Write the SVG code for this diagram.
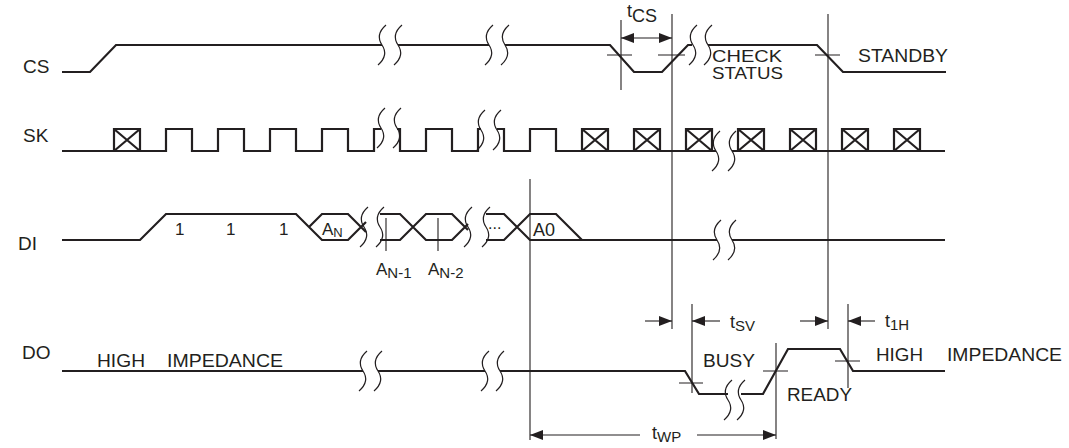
<svg xmlns="http://www.w3.org/2000/svg" width="1069" height="448" viewBox="0 0 1069 448">
<style>
.sig{fill:none;stroke:#231f20;stroke-width:2.2;stroke-linejoin:miter}
.thin{fill:none;stroke:#231f20;stroke-width:1.1}
.brk{fill:none;stroke:#231f20;stroke-width:1.2}
text{font-family:"Liberation Sans",Arial,sans-serif;fill:#231f20}
.lbl{font-size:19px}
.big{font-size:18px}
.mid{font-size:16.5px}
.one{font-size:17px}
.tm{font-size:18px}
.sub{font-size:15px}
</style>
<defs>
<path id="sq" class="brk" d="M4,-20 C-4,-13 -4,-6 0,0 C4,6 4,13 -4,20"/>
<path id="xb" class="sig" d="M0,22 V0 H26 V22 M0,0 L26,22 M26,0 L0,22"/>
<marker id="ah" markerWidth="13" markerHeight="10" refX="13" refY="5" orient="auto-start-reverse" markerUnits="userSpaceOnUse"><path d="M0,0 L13,5 L0,10 Z" fill="#231f20"/></marker>
</defs>
<rect width="1069" height="448" fill="#fff"/>

<g id="CS">
<text class="lbl" x="23" y="73">CS</text>
<path class="sig" d="M62,72 H90 L116,45 H382 M398,45 H489 M505,45 H610 L634,72 H662 L688,45 H692 M708,45 H817 L843,72 H946"/>
<use href="#sq" x="382" y="45"/><use href="#sq" x="398" y="45"/>
<use href="#sq" x="489" y="45"/><use href="#sq" x="505" y="45"/>
<use href="#sq" x="693" y="45"/><use href="#sq" x="708" y="45"/>
<text class="mid" x="712" y="62" textLength="70" lengthAdjust="spacingAndGlyphs">CHECK</text>
<text class="mid" x="712" y="79" textLength="71" lengthAdjust="spacingAndGlyphs">STATUS</text>
<text class="big" x="858" y="62" textLength="90" lengthAdjust="spacingAndGlyphs">STANDBY</text>
</g>

<g id="SK">
<text class="lbl" x="23" y="142">SK</text>
<path class="sig" d="M62,151 H166 V129 H192 V151 H218 V129 H244 V151 H270 V129 H296 V151 H322 V129 H348 V151 H374 V129 H381 M397,129 H400 V151 H426 V129 H452 V151 H478 V129 H481 M497,129 H504 V151 H530 V129 H556 V151 H716 M732,151 H945"/>
<use href="#xb" x="114" y="129"/>
<use href="#xb" x="582" y="129"/><use href="#xb" x="634" y="129"/><use href="#xb" x="686" y="129"/>
<use href="#xb" x="738" y="129"/><use href="#xb" x="790" y="129"/><use href="#xb" x="842" y="129"/><use href="#xb" x="894" y="129"/>
<use href="#sq" x="381" y="128"/><use href="#sq" x="397" y="128"/>
<use href="#sq" x="481" y="130"/><use href="#sq" x="497" y="130"/>
<use href="#sq" x="716" y="151"/><use href="#sq" x="732" y="151"/>
</g>

<g id="DI">
<text class="lbl" x="18" y="250">DI</text>
<path class="sig" d="M62,240 H140 L166,214 H296 L322,240 H348 L366,222 M309,227 L322,214 H348 L366,232"/>
<path class="sig" d="M380,214 H400 L426,240 H452 L468,224 M380,240 H400 L426,214 H452 L468,230"/>
<path class="sig" d="M486,214 H504 L530,240 H717 M732,240 H945 M486,240 H504 L530,214 H556 L582,240"/>
<use href="#sq" x="364" y="227"/><use href="#sq" x="380" y="227"/>
<use href="#sq" x="468" y="227"/><use href="#sq" x="486" y="227"/>
<use href="#sq" x="717" y="240"/><use href="#sq" x="732" y="240"/>
<path class="thin" d="M386,218 V251 M438,218 V251"/>
<text class="one" x="175" y="235">1</text>
<text class="one" x="226" y="235">1</text>
<text class="one" x="279" y="235">1</text>
<text x="322" y="235"><tspan font-size="17">A</tspan><tspan font-size="13" dy="2">N</tspan></text>
<text x="376" y="275"><tspan font-size="17">A</tspan><tspan font-size="15" dy="3">N-1</tspan></text>
<text x="428" y="275"><tspan font-size="17">A</tspan><tspan font-size="15" dy="3">N-2</tspan></text>
<text font-size="16" x="488" y="229">...</text>
<text font-size="18" x="533" y="236">A0</text>
</g>

<g id="DO">
<text class="lbl" x="22" y="359">DO</text>
<path class="sig" d="M62,371 H363 M378,371 H485 M500,371 H685 L699,394 H728 M741,394 H763 L788,349 H840 L853,371 H945"/>
<use href="#sq" x="363" y="371"/><use href="#sq" x="378" y="371"/>
<use href="#sq" x="485" y="371"/><use href="#sq" x="500" y="371"/>
<use href="#sq" x="728" y="400"/><use href="#sq" x="741" y="400"/>
<text class="big" y="367"><tspan x="97" textLength="48" lengthAdjust="spacingAndGlyphs">HIGH</tspan><tspan x="167" textLength="116" lengthAdjust="spacingAndGlyphs">IMPEDANCE</tspan></text>
<text class="big" x="703" y="367" textLength="52" lengthAdjust="spacingAndGlyphs">BUSY</text>
<text class="big" x="787" y="401" textLength="65" lengthAdjust="spacingAndGlyphs">READY</text>
<text class="big" y="361"><tspan x="876" textLength="47" lengthAdjust="spacingAndGlyphs">HIGH</tspan><tspan x="947" textLength="115" lengthAdjust="spacingAndGlyphs">IMPEDANCE</tspan></text>
</g>

<g id="connectors">
<path class="thin" d="M621,20 V90 M672,14 V329 M828,14 V329 M530,179 V440 M692,304 V393 M776,343 V439 M848,304 V388"/>
<path class="thin" d="M607,55 H632 M658,55 H685 M815,55 H840 M679,383 H703 M763,371 H788 M835,361 H860"/>
<line class="thin" x1="621" y1="38" x2="672" y2="38" marker-start="url(#ah)" marker-end="url(#ah)"/>
<line class="thin" x1="645" y1="321" x2="672" y2="321" marker-end="url(#ah)"/>
<line class="thin" x1="720" y1="321" x2="692" y2="321" marker-end="url(#ah)"/>
<line class="thin" x1="800" y1="321" x2="828" y2="321" marker-end="url(#ah)"/>
<line class="thin" x1="875" y1="321" x2="848" y2="321" marker-end="url(#ah)"/>
<line class="thin" x1="640" y1="435" x2="530" y2="435" marker-end="url(#ah)"/>
<line class="thin" x1="697" y1="435" x2="776" y2="435" marker-end="url(#ah)"/>
<text x="627" y="17"><tspan class="tm">t</tspan><tspan font-size="18" dy="5">CS</tspan></text>
<text x="730" y="328"><tspan class="tm">t</tspan><tspan class="sub" dy="3">SV</tspan></text>
<text x="885" y="327"><tspan class="tm">t</tspan><tspan class="sub" dy="3">1H</tspan></text>
<text x="652" y="439"><tspan class="tm">t</tspan><tspan class="sub" dy="3">WP</tspan></text>
</g>
</svg>
